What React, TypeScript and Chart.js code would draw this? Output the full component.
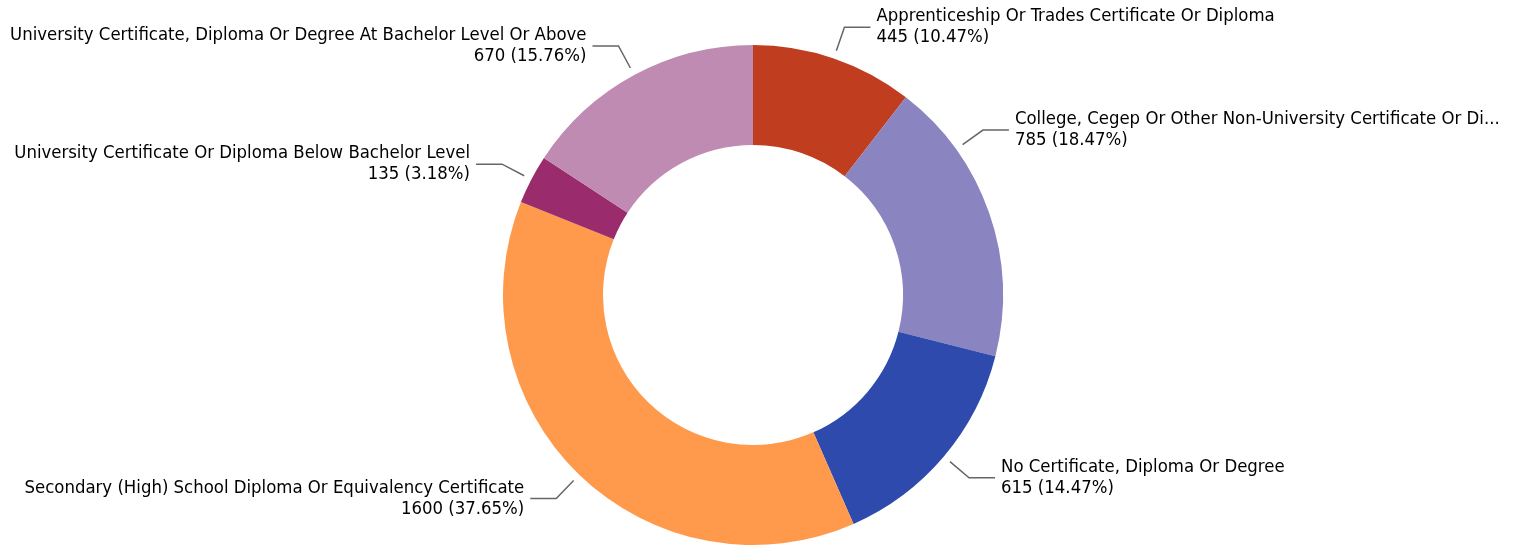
import React, { useEffect, useRef } from "react";
import { Chart, registerables } from "chart.js";

Chart.register(...registerables);

const categories = [
  "Apprenticeship Or Trades Certificate Or Diploma",
  "College, Cegep Or Other Non-University Certificate Or Diploma",
  "No Certificate, Diploma Or Degree",
  "Secondary (High) School Diploma Or Equivalency Certificate",
  "University Certificate Or Diploma Below Bachelor Level",
  "University Certificate, Diploma Or Degree At Bachelor Level Or Above",
];

const values = [445, 785, 615, 1600, 135, 670];

const colors = ["#C03E1F", "#8A84C0", "#2F4AAD", "#FF9A4D", "#9A2C6E", "#C08BB2"];

// label anchor angle adjustment (degrees) for layout
const labelAngleShift = [0, -16.6, 0, 0, 0, 0];

const FONT = '18.4px "DejaVu Sans Condensed", "DejaVu Sans", sans-serif';

const labelPlugin = {
  id: "pieLabels",
  afterDraw(chart: any) {
    const ctx = chart.ctx as CanvasRenderingContext2D;
    const meta = chart.getDatasetMeta(0);
    const data = chart.data.datasets[0].data as number[];
    const total = data.reduce((a, b) => a + b, 0);
    const W = chart.width;
    ctx.save();
    ctx.font = FONT;
    meta.data.forEach((arc: any, i: number) => {
      const { x, y, startAngle, endAngle, outerRadius } = arc.getProps(
        ["x", "y", "startAngle", "endAngle", "outerRadius"],
        true
      );
      const mid = (startAngle + endAngle) / 2 + (labelAngleShift[i] * Math.PI) / 180;
      const cx = Math.cos(mid);
      const sy = Math.sin(mid);
      const x1 = x + (outerRadius + 8) * cx;
      const y1 = y + (outerRadius + 8) * sy;
      const x2 = x + (outerRadius + 33) * cx;
      const y2 = y + (outerRadius + 33) * sy;
      const right = cx >= 0;
      const x3 = x2 + (right ? 26 : -26);
      ctx.strokeStyle = "#666666";
      ctx.lineWidth = 1.5;
      ctx.beginPath();
      ctx.moveTo(x1, y1);
      ctx.lineTo(x2, y2);
      ctx.lineTo(x3, y2);
      ctx.stroke();

      const tx = x3 + (right ? 6 : -6);
      ctx.fillStyle = "#000000";
      ctx.textAlign = right ? "left" : "right";
      ctx.textBaseline = "middle";
      let name = chart.data.labels[i] as string;
      const maxW = right ? W - tx - 11 : tx - 4;
      if (ctx.measureText(name).width > maxW) {
        while (name.length > 1 && ctx.measureText(name + "...").width > maxW) {
          name = name.slice(0, -1);
        }
        name = name + "...";
      }
      const pct = ((data[i] / total) * 100).toFixed(2);
      ctx.fillText(name, tx, y2 - 10.5);
      ctx.fillText(`${data[i]} (${pct}%)`, tx, y2 + 10.5);
    });
    ctx.restore();
  },
};

export default function App() {
  const ref = useRef<HTMLCanvasElement>(null);
  useEffect(() => {
    document.body.style.margin = "0";
    const chart = new Chart(ref.current!, {
      type: "doughnut",
      data: {
        labels: categories,
        datasets: [
          {
            data: values,
            backgroundColor: colors,
            borderWidth: 0,
            hoverOffset: 0,
          },
        ],
      },
      options: {
        responsive: false,
        animation: false,
        cutout: "60%",
        layout: { padding: { top: 45, bottom: 2, left: 0, right: 9 } },
        plugins: {
          legend: { display: false },
          tooltip: { enabled: false },
        },
      },
      plugins: [labelPlugin],
    });
    return () => chart.destroy();
  }, []);
  return (
    <div style={{ width: 1515, height: 547 }}>
      <canvas ref={ref} width={1515} height={547} />
    </div>
  );
}
